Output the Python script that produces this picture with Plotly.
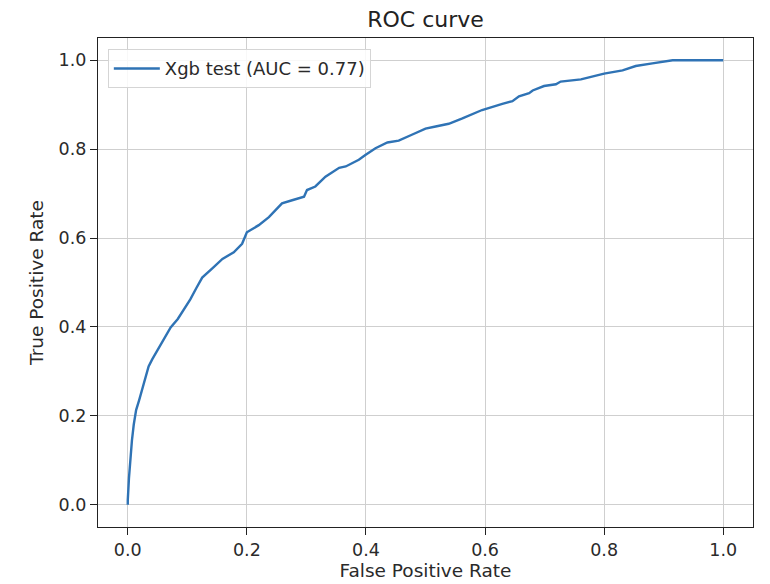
import plotly.graph_objects as go

fpr = [0.0, 0.0, 0.002, 0.004, 0.007, 0.010, 0.014, 0.019, 0.024, 0.030, 0.035, 0.041, 0.047,
       0.060, 0.072, 0.084, 0.094, 0.105, 0.115, 0.125, 0.142, 0.159, 0.178, 0.192, 0.200,
       0.210, 0.220, 0.237, 0.259, 0.276, 0.296, 0.301, 0.315, 0.332, 0.349, 0.355, 0.366,
       0.388, 0.399, 0.416, 0.436, 0.455, 0.478, 0.500, 0.517, 0.539, 0.562, 0.595, 0.629,
       0.646, 0.657, 0.674, 0.680, 0.699, 0.719, 0.727, 0.761, 0.800, 0.831, 0.853, 0.881,
       0.904, 0.915, 0.950, 1.0]
tpr = [0.0, 0.01, 0.06, 0.10, 0.145, 0.18, 0.213, 0.235, 0.258, 0.285, 0.311, 0.327, 0.341,
       0.370, 0.399, 0.418, 0.438, 0.462, 0.487, 0.511, 0.532, 0.553, 0.568, 0.587, 0.613,
       0.621, 0.629, 0.647, 0.678, 0.685, 0.693, 0.708, 0.716, 0.738, 0.752, 0.758, 0.761,
       0.776, 0.787, 0.802, 0.815, 0.819, 0.833, 0.846, 0.851, 0.857, 0.869, 0.888, 0.902,
       0.908, 0.919, 0.926, 0.932, 0.942, 0.946, 0.952, 0.957, 0.970, 0.977, 0.987, 0.993,
       0.997, 1.0, 1.0, 1.0]

tick_vals = [0.0, 0.2, 0.4, 0.6, 0.8, 1.0]
tick_text = ["0.0", "0.2", "0.4", "0.6", "0.8", "1.0"]

font = "DejaVu Sans"

fig = go.Figure()
fig.add_trace(go.Scatter(
    x=fpr, y=tpr, mode="lines",
    line=dict(color="#2f73b5", width=2.4),
    name="Xgb test (AUC = 0.77)",
))

axis_common = dict(
    tickvals=tick_vals, ticktext=tick_text,
    range=[-0.05, 1.05],
    showline=True, mirror=True, linecolor="#222", linewidth=1.2,
    ticks="outside", ticklen=7, tickcolor="#222", tickwidth=1.2,
    showgrid=True, gridcolor="#cfcfcf", gridwidth=1.2,
    zeroline=False, automargin=False,
    tickfont=dict(family=font, size=17.5, color="#2a2a2a"),
)

fig.update_layout(
    width=770, height=584,
    margin=dict(l=98, r=17, t=38, b=57),
    paper_bgcolor="white", plot_bgcolor="white",
    title=dict(text="ROC curve", x=0.5, xref="paper", y=1 - 19 / 584, yref="container",
               xanchor="center", yanchor="middle",
               font=dict(family=font, size=22, color="#222")),
    xaxis=dict(title=dict(text="False Positive Rate", standoff=4,
                          font=dict(family=font, size=18.5, color="#2a2a2a")), **axis_common),
    yaxis=dict(title=dict(text="True Positive Rate", standoff=10,
                          font=dict(family=font, size=18.5, color="#2a2a2a")), **axis_common),
    showlegend=True,
    legend=dict(x=0.015, y=0.977, xanchor="left", yanchor="top", itemwidth=46,
                bgcolor="rgba(255,255,255,0.85)", bordercolor="#d5d5d5", borderwidth=1,
                font=dict(family=font, size=18, color="#2a2a2a")),
)

fig.write_html("out.html")
